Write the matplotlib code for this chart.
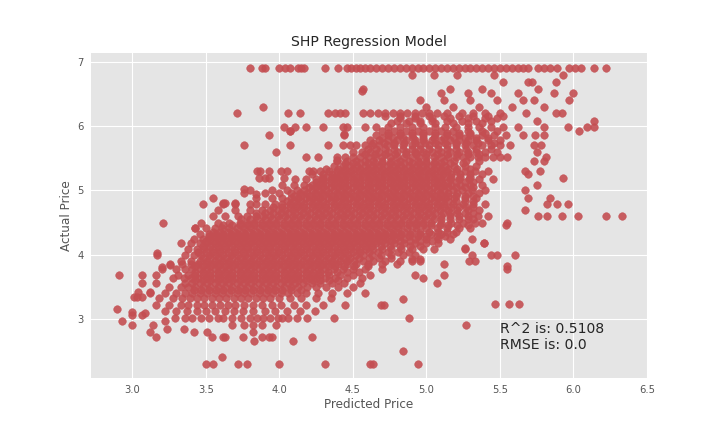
import numpy as np
import matplotlib
matplotlib.use("Agg")
import matplotlib.pyplot as plt

# actual (log) prices: each level has the predicted values
levels = [
    3.02, 3.12, 3.22, 3.33, 3.40, 3.50, 3.56, 3.64, 3.69, 3.78,
    3.86, 3.91, 4.00, 4.09, 4.18, 4.25, 4.32, 4.41, 4.50, 4.60,
    4.70, 4.79, 4.88, 4.96, 5.01, 5.09, 5.17, 5.20, 5.25, 5.30,
    5.38, 5.46, 5.52, 5.60, 5.70, 5.78, 5.86, 5.93, 5.99, 6.08,
    6.16, 6.21, 6.30, 6.40, 6.52, 6.58, 6.68, 6.80, 6.91,
]

predicted_by_level = [
    [3.29, 3.36, 3.41, 3.47, 3.52, 3.58, 3.62, 3.68, 3.74, 3.80, 3.85, 3.89, 3.94, 3.99, 4.02, 4.06, 4.12, 4.19, 4.37],
    [3.22, 3.30, 3.37, 3.44, 3.50, 3.56, 3.63, 3.69, 3.75, 3.82, 3.90, 3.97, 4.05, 4.14, 4.24],
    [3.16, 3.25, 3.33, 3.38, 3.44, 3.49, 3.54, 3.60, 3.65, 3.70, 3.76, 3.82, 3.88, 3.95, 4.01, 4.10, 4.18, 4.30, 4.45, 4.69, 4.71],
    [3.18, 3.28, 3.34, 3.39, 3.44, 3.49, 3.54, 3.59, 3.64, 3.69, 3.74, 3.79, 3.84, 3.89, 3.94, 4.00, 4.07, 4.15, 4.25, 4.35],
    [3.12, 3.22, 3.30, 3.36, 3.41, 3.46, 3.51, 3.56, 3.61, 3.66, 3.71, 3.76, 3.81, 3.86, 3.91, 3.96, 4.01, 4.06, 4.12, 4.18, 4.26, 4.36, 4.46, 4.58],
    [3.25, 3.33, 3.38, 3.43, 3.48, 3.53, 3.58, 3.63, 3.68, 3.73, 3.78, 3.83, 3.88, 3.93, 3.98, 4.03, 4.08, 4.13, 4.19, 4.25, 4.32, 4.40, 4.50],
    [3.07, 3.16, 3.36, 3.41, 3.46, 3.51, 3.56, 3.61, 3.66, 3.71, 3.76, 3.81, 3.86, 3.91, 3.96, 4.01, 4.06, 4.11, 4.16, 4.22, 4.28, 4.36, 4.44, 4.55, 5.07],
    [3.28, 3.35, 3.40, 3.45, 3.50, 3.55, 3.60, 3.65, 3.70, 3.75, 3.80, 3.85, 3.90, 3.95, 4.00, 4.05, 4.10, 4.15, 4.20, 4.25, 4.31, 4.38, 4.46, 4.56, 4.98],
    [2.91, 3.07, 3.16, 3.31, 3.38, 3.43, 3.48, 3.53, 3.58, 3.63, 3.68, 3.73, 3.78, 3.83, 3.88, 3.93, 3.98, 4.03, 4.08, 4.13, 4.18, 4.23, 4.28, 4.34, 4.41, 4.50, 4.62, 4.92, 5.12],
    [3.20, 3.30, 3.36, 3.41, 3.46, 3.51, 3.56, 3.61, 3.66, 3.71, 3.76, 3.81, 3.86, 3.91, 3.96, 4.01, 4.06, 4.11, 4.16, 4.21, 4.26, 4.31, 4.37, 4.43, 4.50, 4.58, 4.70, 5.55],
    [3.26, 3.34, 3.40, 3.45, 3.50, 3.55, 3.60, 3.65, 3.70, 3.75, 3.80, 3.85, 3.90, 3.95, 4.00, 4.05, 4.10, 4.15, 4.20, 4.25, 4.30, 4.35, 4.40, 4.46, 4.52, 4.60, 4.70, 4.80, 5.12],
    [3.33, 3.40, 3.46, 3.51, 3.56, 3.61, 3.66, 3.71, 3.76, 3.81, 3.86, 3.91, 3.96, 4.01, 4.06, 4.11, 4.16, 4.21, 4.26, 4.31, 4.36, 4.41, 4.46, 4.51, 4.57, 4.64, 4.72, 4.82, 4.90, 4.96, 5.29, 5.33],
    [3.17, 3.36, 3.42, 3.47, 3.52, 3.57, 3.62, 3.67, 3.72, 3.77, 3.82, 3.87, 3.92, 3.97, 4.02, 4.07, 4.12, 4.17, 4.22, 4.27, 4.32, 4.37, 4.42, 4.47, 4.52, 4.57, 4.63, 4.69, 4.76, 4.84, 4.92, 5.31, 5.44, 5.48, 5.60],
    [3.38, 3.44, 3.49, 3.54, 3.59, 3.64, 3.69, 3.74, 3.79, 3.84, 3.89, 3.94, 3.99, 4.04, 4.09, 4.14, 4.19, 4.24, 4.29, 4.34, 4.39, 4.44, 4.49, 4.54, 4.59, 4.64, 4.70, 4.76, 4.83, 4.90, 4.98, 5.05, 5.26],
    [3.33, 3.40, 3.46, 3.51, 3.56, 3.61, 3.66, 3.71, 3.76, 3.81, 3.86, 3.91, 3.96, 4.01, 4.06, 4.11, 4.16, 4.21, 4.26, 4.31, 4.36, 4.41, 4.46, 4.51, 4.56, 4.61, 4.66, 4.72, 4.78, 4.85, 4.92, 5.00, 5.08, 5.39],
    [3.42, 3.48, 3.53, 3.58, 3.63, 3.68, 3.73, 3.78, 3.83, 3.88, 3.93, 3.98, 4.03, 4.08, 4.13, 4.18, 4.23, 4.28, 4.33, 4.38, 4.43, 4.48, 4.53, 4.58, 4.63, 4.68, 4.73, 4.79, 4.85, 4.92, 5.00, 5.08, 5.16, 5.31],
    [3.46, 3.52, 3.57, 3.62, 3.67, 3.72, 3.77, 3.82, 3.87, 3.92, 3.97, 4.02, 4.07, 4.12, 4.17, 4.22, 4.27, 4.32, 4.37, 4.42, 4.47, 4.52, 4.57, 4.62, 4.67, 4.72, 4.77, 4.83, 4.89, 4.96, 5.03, 5.10, 5.18],
    [3.43, 3.50, 3.56, 3.61, 3.66, 3.71, 3.76, 3.81, 3.86, 3.91, 3.96, 4.01, 4.06, 4.11, 4.16, 4.21, 4.26, 4.31, 4.36, 4.41, 4.46, 4.51, 4.56, 4.61, 4.66, 4.71, 4.76, 4.81, 4.87, 4.93, 5.00, 5.07, 5.14, 5.22, 5.30],
    [3.21, 3.47, 3.58, 3.66, 3.73, 3.78, 3.83, 3.88, 3.93, 3.98, 4.03, 4.08, 4.13, 4.18, 4.23, 4.28, 4.33, 4.38, 4.43, 4.48, 4.53, 4.58, 4.63, 4.68, 4.73, 4.78, 4.83, 4.88, 4.93, 4.98, 5.03, 5.10, 5.17, 5.25, 5.33, 5.38, 5.55],
    [3.55, 3.63, 3.72, 3.78, 3.84, 3.89, 3.94, 3.99, 4.04, 4.09, 4.14, 4.19, 4.24, 4.29, 4.34, 4.39, 4.44, 4.49, 4.54, 4.59, 4.64, 4.69, 4.74, 4.79, 4.84, 4.89, 4.94, 4.99, 5.04, 5.10, 5.16, 5.22, 5.28, 5.35, 5.42, 5.76, 5.82, 5.92, 6.03, 6.22, 6.33],
    [3.58, 3.70, 3.80, 3.88, 3.94, 3.99, 4.04, 4.09, 4.14, 4.19, 4.24, 4.29, 4.34, 4.39, 4.44, 4.49, 4.54, 4.59, 4.64, 4.69, 4.74, 4.79, 4.84, 4.89, 4.94, 4.99, 5.04, 5.09, 5.15, 5.21, 5.28, 5.36, 5.67],
    [3.48, 3.62, 3.70, 3.80, 3.84, 3.90, 3.97, 4.02, 4.07, 4.12, 4.17, 4.22, 4.27, 4.32, 4.37, 4.42, 4.47, 4.52, 4.57, 4.62, 4.67, 4.72, 4.77, 4.82, 4.87, 4.92, 4.97, 5.02, 5.07, 5.12, 5.18, 5.25, 5.32, 5.40, 5.82, 5.89, 5.96],
    [3.55, 3.84, 3.95, 4.02, 4.08, 4.13, 4.18, 4.23, 4.28, 4.33, 4.38, 4.43, 4.48, 4.53, 4.58, 4.63, 4.68, 4.73, 4.78, 4.83, 4.88, 4.93, 4.98, 5.03, 5.08, 5.13, 5.19, 5.26, 5.34, 5.69, 5.84],
    [3.76, 3.90, 4.00, 4.08, 4.14, 4.19, 4.24, 4.29, 4.34, 4.39, 4.44, 4.49, 4.54, 4.59, 4.64, 4.69, 4.74, 4.79, 4.84, 4.89, 4.94, 4.99, 5.04, 5.09, 5.15, 5.21, 5.28, 5.36],
    [3.80, 3.95, 4.05, 4.12, 4.17, 4.22, 4.27, 4.32, 4.37, 4.42, 4.47, 4.52, 4.57, 4.62, 4.67, 4.72, 4.77, 4.82, 4.87, 4.92, 4.97, 5.02, 5.07, 5.12, 5.18, 5.24, 5.31, 5.40, 5.67],
    [4.02, 4.10, 4.17, 4.22, 4.27, 4.32, 4.37, 4.42, 4.47, 4.52, 4.57, 4.62, 4.67, 4.72, 4.77, 4.82, 4.87, 4.92, 4.97, 5.02, 5.07, 5.12, 5.17, 5.23, 5.30, 5.38, 5.75],
    [4.11, 4.18, 4.25, 4.30, 4.35, 4.40, 4.45, 4.50, 4.55, 4.60, 4.65, 4.70, 4.75, 4.80, 4.85, 4.90, 4.95, 5.00, 5.05, 5.10, 5.16, 5.22, 5.29, 5.36, 5.45],
    [3.86, 3.90, 3.93, 4.03, 4.29, 4.38, 5.93],
    [4.22, 4.30, 4.36, 4.41, 4.46, 4.51, 4.56, 4.61, 4.66, 4.71, 4.76, 4.81, 4.86, 4.91, 4.96, 5.01, 5.06, 5.11, 5.17, 5.23, 5.30, 5.38, 5.69],
    [3.85, 3.87, 3.93, 4.01, 4.05, 4.20, 4.23, 4.28, 4.34, 4.39, 4.44, 4.49, 4.54, 4.59, 4.64, 4.69, 4.74, 4.79, 4.84, 4.89, 4.94, 4.99, 5.04, 5.09, 5.14, 5.20, 5.26, 5.33, 5.42, 5.67, 5.77],
    [4.37, 4.43, 4.48, 4.53, 4.58, 4.63, 4.68, 4.73, 4.78, 4.83, 4.88, 4.93, 4.98, 5.03, 5.08, 5.13, 5.19, 5.26, 5.34],
    [4.39, 4.46, 4.52, 4.58, 4.64, 4.70, 4.76, 4.82, 4.88, 4.94, 5.00, 5.06, 5.12, 5.19, 5.27, 5.36, 5.73, 5.80],
    [4.18, 4.26, 4.39, 4.45, 4.50, 4.55, 4.60, 4.65, 4.70, 4.75, 4.80, 4.85, 4.90, 4.95, 5.00, 5.05, 5.10, 5.15, 5.20, 5.25, 5.30, 5.35, 5.40, 5.45, 5.50, 5.55, 5.81],
    [3.98, 4.50, 4.56, 4.62, 4.68, 4.74, 4.80, 4.86, 4.92, 4.98, 5.04, 5.10, 5.16, 5.22, 5.28, 5.34, 5.40, 5.48, 5.75],
    [3.76, 4.07, 4.33, 4.43, 4.48, 4.52, 4.58, 4.63, 4.68, 4.73, 4.78, 4.84, 4.90, 4.96, 5.02, 5.08, 5.14, 5.20, 5.26, 5.32, 5.38, 5.44, 5.50, 5.57, 5.73, 5.78],
    [4.62, 4.68, 4.74, 4.80, 4.86, 4.92, 4.98, 5.04, 5.10, 5.16, 5.22, 5.28, 5.34, 5.42, 5.50],
    [3.93, 4.44, 4.66, 4.74, 4.82, 4.90, 4.98, 5.06, 5.14, 5.22, 5.30, 5.38, 5.46, 5.54, 5.66, 5.74, 5.80],
    [4.07, 4.70, 4.78, 4.86, 4.94, 5.02, 5.10, 5.18, 5.28, 5.38, 5.48, 6.04],
    [4.03, 4.11, 4.18, 4.30, 4.43, 4.46, 4.58, 4.66, 4.74, 4.82, 4.90, 4.98, 5.06, 5.13, 5.20, 5.28, 5.36, 5.44, 5.52, 5.62, 5.80, 5.96, 6.09, 6.14],
    [4.80, 4.88, 4.96, 5.04, 5.14, 5.24, 5.34, 5.44, 5.75, 6.14],
    [4.72, 4.82, 4.92, 5.02, 5.12, 5.22, 5.32, 5.42, 5.52],
    [3.71, 4.06, 4.14, 4.33, 4.38, 4.41, 4.45, 4.57, 4.62, 4.67, 4.72, 4.77, 4.82, 4.87, 4.92, 4.97, 5.02, 5.07, 5.14, 5.24, 5.32, 5.40, 5.50, 5.68, 5.88, 5.92],
    [3.89, 5.00, 5.18, 5.36, 5.58, 5.80],
    [4.96, 5.12, 5.30, 5.48, 5.66, 5.73, 5.97],
    [5.10, 5.28, 5.44, 5.62, 5.87, 6.00],
    [4.57, 5.16, 5.38, 5.76],
    [5.52, 5.69, 5.72, 5.88],
    [4.90, 5.05, 5.21, 5.46, 5.93],
    [3.80, 3.88, 3.90, 4.00, 4.04, 4.07, 4.13, 4.15, 4.17, 4.31, 4.40, 4.46, 4.49, 4.52, 4.55, 4.58,
     4.62, 4.66, 4.70, 4.74, 4.78, 4.82, 4.86, 4.90, 4.94, 4.98, 5.02, 5.06, 5.10, 5.14, 5.18, 5.22,
     5.26, 5.30, 5.34, 5.38, 5.42, 5.46, 5.50, 5.54, 5.58, 5.62, 5.66, 5.69, 5.76, 5.80, 5.84, 5.89,
     5.97, 6.01, 6.05, 6.14, 6.22],
]

# in-between levels inside the solid part of the cloud
mid_levels = [
    3.45, 3.61, 3.74, 3.82, 3.95, 4.05, 4.14, 4.22, 4.29, 4.36, 4.46,
    4.55, 4.65, 4.75, 4.84, 4.92, 5.05, 5.13, 5.21, 5.34, 5.42, 5.56,
    5.65, 5.74, 5.82, 5.90, 6.04, 6.12,
]

mid_predicted_by_level = [
    [3.42, 3.47, 3.52, 3.57, 3.62, 3.67, 3.72, 3.77, 3.82, 3.87, 3.92, 3.97, 4.02, 4.08, 4.15],
    [3.43, 3.48, 3.53, 3.58, 3.63, 3.68, 3.73, 3.78, 3.83, 3.88, 3.93, 3.98, 4.03, 4.08, 4.13, 4.18, 4.23, 4.28, 4.34, 4.40],
    [3.43, 3.48, 3.53, 3.58, 3.63, 3.68, 3.73, 3.78, 3.83, 3.88, 3.93, 3.98, 4.03, 4.08, 4.13, 4.18, 4.23, 4.28, 4.33, 4.39, 4.46, 4.54],
    [3.43, 3.48, 3.53, 3.58, 3.63, 3.68, 3.73, 3.78, 3.83, 3.88, 3.93, 3.98, 4.03, 4.08, 4.13, 4.18, 4.23, 4.28, 4.33, 4.38, 4.44, 4.51, 4.60],
    [3.48, 3.53, 3.58, 3.63, 3.68, 3.73, 3.78, 3.83, 3.88, 3.93, 3.98, 4.03, 4.08, 4.13, 4.18, 4.23, 4.28, 4.33, 4.38, 4.43, 4.48, 4.54, 4.61, 4.68, 4.76],
    [3.45, 3.50, 3.55, 3.60, 3.65, 3.70, 3.75, 3.80, 3.85, 3.90, 3.95, 4.00, 4.05, 4.10, 4.15, 4.20, 4.25, 4.30, 4.35, 4.40, 4.45, 4.50, 4.55, 4.61, 4.67, 4.74, 4.81, 4.88],
    [3.48, 3.53, 3.58, 3.63, 3.68, 3.73, 3.78, 3.83, 3.88, 3.93, 3.98, 4.03, 4.08, 4.13, 4.18, 4.23, 4.28, 4.33, 4.38, 4.43, 4.48, 4.53, 4.58, 4.63, 4.69, 4.75, 4.82, 4.89, 4.96],
    [3.50, 3.55, 3.60, 3.65, 3.70, 3.75, 3.80, 3.85, 3.90, 3.95, 4.00, 4.05, 4.10, 4.15, 4.20, 4.25, 4.30, 4.35, 4.40, 4.45, 4.50, 4.55, 4.60, 4.65, 4.70, 4.76, 4.82, 4.89, 4.96, 5.04],
    [3.52, 3.57, 3.62, 3.67, 3.72, 3.77, 3.82, 3.87, 3.92, 3.97, 4.02, 4.07, 4.12, 4.17, 4.22, 4.27, 4.32, 4.37, 4.42, 4.47, 4.52, 4.57, 4.62, 4.67, 4.72, 4.77, 4.82, 4.88, 4.94, 5.00, 5.07, 5.13],
    [3.55, 3.60, 3.65, 3.70, 3.75, 3.80, 3.85, 3.90, 3.95, 4.00, 4.05, 4.10, 4.15, 4.20, 4.25, 4.30, 4.35, 4.40, 4.45, 4.50, 4.55, 4.60, 4.65, 4.70, 4.75, 4.80, 4.85, 4.90, 4.96, 5.02, 5.08, 5.14, 5.20],
    [3.62, 3.68, 3.73, 3.78, 3.83, 3.88, 3.93, 3.98, 4.03, 4.08, 4.13, 4.18, 4.23, 4.28, 4.33, 4.38, 4.43, 4.48, 4.53, 4.58, 4.63, 4.68, 4.73, 4.78, 4.83, 4.88, 4.93, 4.98, 5.03, 5.09, 5.15, 5.21, 5.28],
    [3.74, 3.80, 3.85, 3.90, 3.95, 4.00, 4.05, 4.10, 4.15, 4.20, 4.25, 4.30, 4.35, 4.40, 4.45, 4.50, 4.55, 4.60, 4.65, 4.70, 4.75, 4.80, 4.85, 4.90, 4.95, 5.00, 5.05, 5.10, 5.16, 5.22, 5.28, 5.32],
    [3.84, 3.90, 3.96, 4.01, 4.06, 4.11, 4.16, 4.21, 4.26, 4.31, 4.36, 4.41, 4.46, 4.51, 4.56, 4.61, 4.66, 4.71, 4.76, 4.81, 4.86, 4.91, 4.96, 5.01, 5.06, 5.11, 5.16, 5.21, 5.26, 5.32],
    [3.96, 4.02, 4.07, 4.12, 4.17, 4.22, 4.27, 4.32, 4.37, 4.42, 4.47, 4.52, 4.57, 4.62, 4.67, 4.72, 4.77, 4.82, 4.87, 4.92, 4.97, 5.02, 5.07, 5.12, 5.17, 5.22, 5.27, 5.32],
    [4.05, 4.10, 4.15, 4.20, 4.25, 4.30, 4.35, 4.40, 4.45, 4.50, 4.55, 4.60, 4.65, 4.70, 4.75, 4.80, 4.85, 4.90, 4.95, 5.00, 5.05, 5.10, 5.15, 5.20, 5.26, 5.32],
    [4.10, 4.15, 4.20, 4.25, 4.30, 4.35, 4.40, 4.45, 4.50, 4.55, 4.60, 4.65, 4.70, 4.75, 4.80, 4.85, 4.90, 4.95, 5.00, 5.05, 5.10, 5.15, 5.20, 5.26, 5.32],
    [4.20, 4.25, 4.30, 4.35, 4.40, 4.45, 4.50, 4.55, 4.60, 4.65, 4.70, 4.75, 4.80, 4.85, 4.90, 4.95, 5.00, 5.05, 5.10, 5.15, 5.20, 5.26, 5.32],
    [4.25, 4.30, 4.35, 4.40, 4.45, 4.50, 4.55, 4.60, 4.65, 4.70, 4.75, 4.80, 4.85, 4.90, 4.95, 5.00, 5.05, 5.10, 5.15, 5.20, 5.26, 5.32],
    [4.32, 4.37, 4.42, 4.47, 4.52, 4.57, 4.62, 4.67, 4.72, 4.77, 4.82, 4.87, 4.92, 4.97, 5.02, 5.07, 5.12, 5.17, 5.23, 5.30],
    [4.40, 4.45, 4.50, 4.55, 4.60, 4.65, 4.70, 4.75, 4.80, 4.85, 4.90, 4.95, 5.00, 5.05, 5.10, 5.15, 5.21, 5.30],
    [4.45, 4.50, 4.55, 4.60, 4.65, 4.70, 4.75, 4.80, 4.85, 4.90, 4.95, 5.00, 5.05, 5.10, 5.16, 5.25],
    [4.58, 4.65, 4.72, 4.79, 4.86, 4.93, 5.00, 5.07, 5.14, 5.21, 5.28, 5.36],
    [4.60, 4.66, 4.72, 4.78, 4.84, 4.90, 4.96, 5.02, 5.08, 5.14, 5.20, 5.27, 5.34, 5.44],
    [4.64, 4.71, 4.78, 4.85, 4.92, 4.99, 5.06, 5.13, 5.20, 5.27, 5.35, 5.46],
    [4.70, 4.77, 4.84, 4.91, 4.98, 5.05, 5.12, 5.19, 5.26, 5.34, 5.42],
    [4.74, 4.82, 4.90, 4.98, 5.06, 5.14, 5.22, 5.30, 5.40],
    [4.76, 4.86, 4.96, 5.06, 5.18, 5.28, 5.38],
    [4.82, 4.92, 5.04, 5.16, 5.28, 5.40, 5.48],
]

# stray points away from the main cloud
stray_predicted = [3.50, 3.55, 3.72, 3.78, 4.00, 4.31, 4.62, 4.64, 4.94, 3.61, 4.84,
                   3.83, 4.09, 3.16, 3.54, 3.62, 3.63, 3.75, 3.88, 3.93, 3.95, 4.22,
                   3.12, 3.42, 3.51, 3.82, 3.24, 3.35, 3.00, 3.14, 3.68, 3.76, 3.82,
                   3.88, 3.98, 5.27, 2.93, 3.22, 3.00, 3.07, 3.09, 4.88, 2.90, 3.00,
                   5.47, 5.56, 5.63, 4.84, 3.01, 3.03, 3.07, 3.04, 3.12, 3.26, 3.20,
                   4.90, 4.96, 5.55, 3.17, 5.26, 5.39, 5.54, 3.43, 3.62, 3.63, 3.70,
                   4.32, 4.39, 3.76, 3.84, 4.56, 4.44, 4.07]
stray_actual = [2.30, 2.30, 2.30, 2.30, 2.30, 2.30, 2.30, 2.30, 2.30, 2.41, 2.50,
                2.66, 2.66, 2.72, 2.72, 2.72, 2.72, 2.72, 2.72, 2.72, 2.72, 2.72,
                2.80, 2.80, 2.80, 2.80, 2.85, 2.85, 2.91, 2.91, 2.91, 2.91, 2.91,
                2.91, 2.91, 2.91, 2.97, 2.97, 3.06, 3.06, 3.09, 3.01, 3.16, 3.11,
                3.23, 3.23, 3.23, 3.31, 3.34, 3.34, 3.34, 3.42, 3.42, 3.84, 3.81,
                3.93, 3.93, 3.82, 4.02, 4.10, 4.19, 4.46, 4.41, 4.80, 4.80, 4.80,
                5.34, 5.47, 5.02, 4.94, 6.55, 5.88, 5.93]

r2_text = "R^2 is: 0.5108"
rmse_text = "RMSE is: 0.0"

all_levels = levels + mid_levels
all_rows = predicted_by_level + mid_predicted_by_level
predicted = np.concatenate([np.array(row) for row in all_rows] + [np.array(stray_predicted)])
actual = np.concatenate([np.full(len(row), lv) for lv, row in zip(all_levels, all_rows)]
                        + [np.array(stray_actual)])

fig = plt.figure(figsize=(10, 6), dpi=72)
ax = fig.add_axes([0.1264, 0.1257, 0.7722, 0.7523])
ax.set_facecolor("#e5e5e5")
for s in ax.spines.values():
    s.set_visible(False)
ax.grid(True, color="white", linewidth=1.1)
ax.set_axisbelow(True)

ax.scatter(predicted, actual, s=58, color="#c44e52", alpha=0.9, linewidths=0.5, edgecolors="face")

ax.set_xlim(2.72, 6.5)
ax.set_ylim(2.09, 7.14)
ax.set_xticks([3.0, 3.5, 4.0, 4.5, 5.0, 5.5, 6.0, 6.5])
ax.set_yticks([3, 4, 5, 6, 7])
ax.tick_params(length=0, labelsize=10, labelcolor="#555555", pad=7)

ax.set_title("SHP Regression Model", fontsize=14, color="#262626", pad=7)
ax.set_xlabel("Predicted Price", fontsize=12, color="#555555", labelpad=3)
ax.set_ylabel("Actual Price", fontsize=12, color="#555555", labelpad=5)

ax.text(5.5, 2.53, r2_text + "\n" + rmse_text, fontsize=14, color="#262626")

fig.savefig("out.png", dpi=72)
